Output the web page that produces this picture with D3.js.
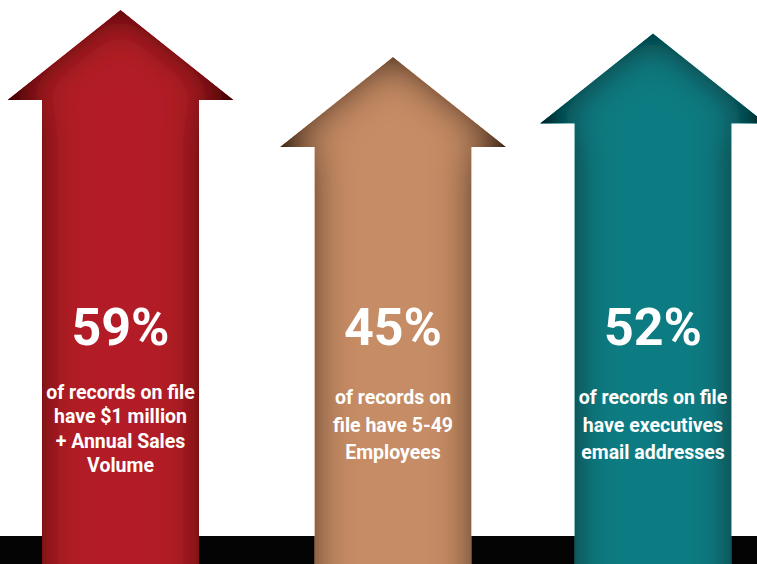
<!DOCTYPE html>
<html>
<head>
<meta charset="utf-8">
<script src="https://cdn.jsdelivr.net/npm/d3@7"></script>
<style>
  html, body { margin: 0; padding: 0; background: #fff; overflow: hidden; }
  text { font-family: Roboto, "Liberation Sans", sans-serif; font-weight: bold; fill: #fff; }
</style>
</head>
<body>
<div id="chart"></div>
<script>
var keys = ["sales", "employees", "email"]
var values = [59, 45, 52]
var captions = [
  ["of records on file", "have $1 million", "+ Annual Sales", "Volume"],
  ["of records on", "file have 5-49", "Employees"],
  ["of records on file", "have executives", "email addresses"]
]
var palette = ["#b31e25", "#c68c65", "#0f7c82"]
var shadows = ["#3a0306", "#3a2414", "#011f22"]

var width = 757, height = 564

var svg = d3.select("#chart").append("svg")
  .attr("width", width)
  .attr("height", height)

var x = d3.scaleOrdinal().domain(keys).range([120.5, 393, 653])
var y = d3.scaleLinear().domain([45, 59]).range([57, 10])
var color = d3.scaleOrdinal().domain(keys).range(palette)
var shade = d3.scaleOrdinal().domain(keys).range(shadows)

var headH = 90, headW = 113, shaftW = 78.5

var defs = svg.append("defs")

// soft inner shadow so the arrow edges go darker
keys.forEach(function (k) {
  var f = defs.append("filter")
    .attr("id", "inset-" + k)
    .attr("x", "-20%").attr("y", "-20%")
    .attr("width", "140%").attr("height", "140%")
  f.append("feGaussianBlur").attr("in", "SourceAlpha").attr("stdDeviation", 20).attr("result", "blur")
  f.append("feComposite").attr("in", "SourceAlpha").attr("in2", "blur")
    .attr("operator", "arithmetic").attr("k2", 1.15).attr("k3", -1.15).attr("result", "inv")
  f.append("feFlood").attr("flood-color", shade(k))
  f.append("feComposite").attr("in2", "inv").attr("operator", "in").attr("result", "shadow")
  f.append("feComposite").attr("in", "shadow").attr("in2", "SourceGraphic").attr("operator", "over")
})

// floor strip
svg.append("rect")
  .attr("x", 0).attr("y", 536)
  .attr("width", width).attr("height", height - 536)
  .attr("fill", "#040404")

var data = keys.map(function (k, i) {
  return { key: k, value: values[i], lines: captions[i] }
})

var arrowPath = function (d) {
  var cx = x(d.key), top = y(d.value), base = top + headH
  var p = d3.path()
  p.moveTo(cx, top)
  p.lineTo(cx + headW, base)
  p.lineTo(cx + shaftW, base)
  p.lineTo(cx + shaftW, height + 80)
  p.lineTo(cx - shaftW, height + 80)
  p.lineTo(cx - shaftW, base)
  p.lineTo(cx - headW, base)
  p.closePath()
  return p.toString()
}

var arrow = svg.selectAll("g.arrow")
  .data(data)
  .join("g")
  .attr("class", "arrow")

arrow.append("path")
  .attr("d", arrowPath)
  .attr("fill", d => color(d.key))
  .attr("filter", d => "url(#inset-" + d.key + ")")

arrow.append("text")
  .attr("x", d => x(d.key))
  .attr("y", 345)
  .attr("text-anchor", "middle")
  .attr("font-size", 52)
  .text(d => d.value + "%")

arrow.each(function (d) {
  var step = d.lines.length > 3 ? 24.3 : 27.5
  var first = d.lines.length > 3 ? 399 : 404
  d3.select(this).selectAll("text.cap")
    .data(d.lines)
    .join("text")
    .attr("class", "cap")
    .attr("x", x(d.key))
    .attr("y", (t, i) => first + i * step)
    .attr("text-anchor", "middle")
    .attr("font-size", 19.5)
    .text(t => t)
})
</script>
</body>
</html>
